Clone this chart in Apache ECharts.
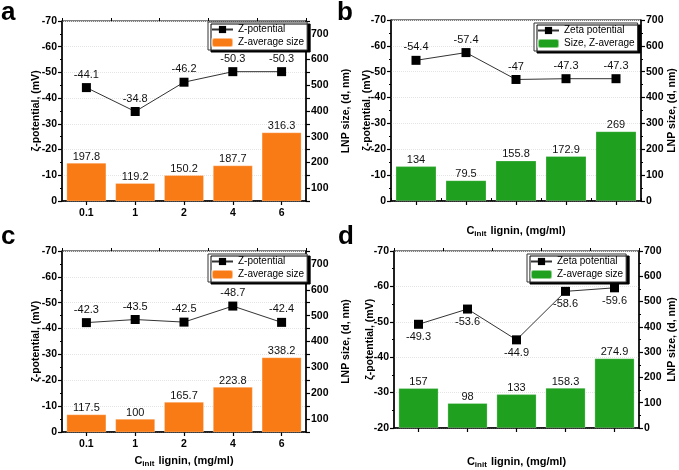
<!DOCTYPE html>
<html>
<head>
<meta charset="utf-8">
<script src="https://cdn.jsdelivr.net/npm/echarts@6/dist/echarts.min.js"></script>
<style>
html,body{margin:0;padding:0;background:#fff;}
#chart{width:679px;height:470px;}
</style>
</head>
<body>
<div id="chart"></div>
<script>
const categories = ['0.1', '1', '2', '4', '6'];
const zetaA = [-44.1, -34.8, -46.2, -50.3, -50.3];
const sizeA = [197.8, 119.2, 150.2, 187.7, 316.3];
const zetaB = [-54.4, -57.4, -47, -47.3, -47.3];
const sizeB = [134, 79.5, 155.8, 172.9, 269];
const zetaC = [-42.3, -43.5, -42.5, -48.7, -42.4];
const sizeC = [117.5, 100, 165.7, 223.8, 338.2];
const zetaD = [-49.3, -53.6, -44.9, -58.6, -59.6];
const sizeD = [157, 98, 133, 158.3, 274.9];
const namesA = ['Z-potential', 'Z-average size'];
const namesB = ['Zeta potential', 'Size, Z-average'];
const namesC = ['Z-potential', 'Z-average size'];
const namesD = ['Zeta potential', 'Z-average size'];
const panelLetters = ['a', 'b', 'c', 'd'];
const leftAxisName = 'ζ-potential, (mV)';
const rightAxisName = 'LNP size, (d, nm)';
const xAxisName = '{m|C}{s|init}{m| lignin, (mg/ml)}';

const ORANGE = '#f97b16';
const GREEN = '#1fa01f';
const FONT = '"Liberation Sans", Arial, sans-serif';

const panels = [
  {zeta: zetaA, size: sizeA, names: namesA, color: ORANGE,
   grid: {left: 62, top: 21, width: 244, height: 180},
   zMin: -70, zMax: 0, sMin: 50, sMax: 750, sInt: 50,
   showX: true, xName: false, xGap: 0, lg: {left: 208, top: 22}, lpos: 'top', lGap: 20, rGap: 35,
   letter: {x: 1, y: 27}},
  {zeta: zetaB, size: sizeB, names: namesB, color: GREEN,
   grid: {left: 391, top: 20, width: 250, height: 181},
   zMin: -70, zMax: 0, sMin: 0, sMax: 700, sInt: 100,
   showX: false, xName: true, xGap: 23, lg: {left: 534, top: 23}, lpos: 'top', lGap: 18, rGap: 26,
   letter: {x: 337, y: 27}},
  {zeta: zetaC, size: sizeC, names: namesC, color: ORANGE,
   grid: {left: 62, top: 251, width: 244, height: 181},
   zMin: -70, zMax: 0, sMin: 50, sMax: 750, sInt: 50,
   showX: true, xName: true, xGap: 22, lg: {left: 208, top: 254}, lpos: 'top', lGap: 20, rGap: 35,
   letter: {x: 1, y: 251}},
  {zeta: zetaD, size: sizeD, names: namesD, color: GREEN,
   grid: {left: 394, top: 251, width: 245, height: 181},
   zMin: -70, zMax: -20, sMin: 0, sMax: 700, sInt: 100,
   showX: false, xName: true, xGap: 27, lg: {left: 527, top: 254}, lpos: 'bottom', lGap: 18, rGap: 28,
   letter: {x: 338, y: 251}}
];

const option = {
  backgroundColor: '#fff',
  animation: false,
  textStyle: {fontFamily: FONT},
  grid: [], xAxis: [], yAxis: [], series: [], legend: [], graphic: []
};

panels.forEach((p, i) => {
  option.grid.push(Object.assign({show: true, borderColor: '#000', borderWidth: 1, backgroundColor: 'transparent'}, p.grid));
  option.xAxis.push({
    type: 'category', gridIndex: i, data: categories,
    axisLine: {lineStyle: {color: '#000', width: 1.5}},
    axisTick: {show: true, alignWithLabel: true, length: 4, lineStyle: {color: '#000', width: 1.2}},
    axisLabel: {show: p.showX, color: '#000', fontWeight: 'bold', fontSize: 10.5, margin: 7, fontFamily: FONT},
    name: p.xName ? xAxisName : '',
    nameLocation: 'middle', nameGap: p.xGap, nameMoveOverlap: false,
    nameTextStyle: {
      color: '#000', fontFamily: FONT,
      rich: {
        m: {fontSize: 11, fontWeight: 'bold', color: '#000', fontFamily: FONT},
        s: {fontSize: 8, fontWeight: 'bold', color: '#000', fontFamily: FONT, padding: [6, 1, 0, 0]}
      }
    }
  });
  option.xAxis.push({
    type: 'category', gridIndex: i, data: categories,
    axisLine: {show: false},
    axisTick: {show: true, length: 3, lineStyle: {color: '#000', width: 1}},
    axisLabel: {show: false}, splitLine: {show: false}
  });
  option.yAxis.push({
    type: 'value', gridIndex: i, position: 'left', inverse: true,
    min: p.zMin, max: p.zMax, interval: 10,
    axisLine: {show: true, lineStyle: {color: '#000', width: 1.5}},
    axisTick: {show: true, length: 4, lineStyle: {color: '#000', width: 1.2}},
    minorTick: {show: true, splitNumber: 2, length: 2, lineStyle: {color: '#000'}},
    axisLabel: {color: '#000', fontWeight: 'bold', fontSize: 10.5, margin: 5, fontFamily: FONT},
    splitLine: {show: true, lineStyle: {color: '#e4e4e4', type: 'dotted', width: 1}},
    name: leftAxisName, nameLocation: 'middle', nameGap: p.lGap, nameRotate: 90, nameMoveOverlap: false,
    nameTextStyle: {color: '#000', fontWeight: 'bold', fontSize: 10.5, fontFamily: FONT}
  });
  option.yAxis.push({
    type: 'value', gridIndex: i, position: 'right',
    min: p.sMin, max: p.sMax, interval: p.sInt,
    axisLine: {show: true, lineStyle: {color: '#000', width: 1.5}},
    axisTick: {show: true, length: 4, lineStyle: {color: '#000', width: 1.2}},
    minorTick: {show: p.sInt === 100, splitNumber: 2, length: 2, lineStyle: {color: '#000'}},
    axisLabel: {
      color: '#000', fontWeight: 'bold', fontSize: 10.5, margin: 5, fontFamily: FONT,
      formatter: v => (v % 100 === 0 && v <= 700) ? String(v) : ''
    },
    splitLine: {show: false},
    name: rightAxisName, nameLocation: 'middle', nameGap: p.rGap, nameRotate: 90, nameMoveOverlap: false,
    nameTextStyle: {color: '#000', fontWeight: 'bold', fontSize: 10.5, fontFamily: FONT}
  });
  option.series.push({
    type: 'bar', name: p.names[1], xAxisIndex: i * 2, yAxisIndex: i * 2 + 1,
    data: p.size, barWidth: '81%', clip: true,
    itemStyle: {color: p.color, borderColor: 'rgba(255,255,255,0.5)', borderWidth: 0.5},
    label: {show: true, position: 'top', distance: 1, color: '#111', fontSize: 11, fontFamily: FONT},
    z: 2
  });
  option.series.push({
    type: 'line', name: p.names[0], xAxisIndex: i * 2, yAxisIndex: i * 2,
    data: p.zeta, symbol: 'rect', symbolSize: 9,
    lineStyle: {color: '#333', width: 1},
    itemStyle: {color: '#000'},
    label: {show: true, position: p.lpos, distance: 3, color: '#111', fontSize: 11, fontFamily: FONT},
    z: 4
  });
  option.legend.push({
    left: p.lg.left, top: p.lg.top, orient: 'vertical',
    itemWidth: 21, itemHeight: 9, itemGap: 2,
    padding: [2, 3, 2, 3],
    backgroundColor: '#fff', borderColor: '#333', borderWidth: 1,
    shadowColor: '#000', shadowBlur: 0, shadowOffsetX: 3, shadowOffsetY: 2,
    selectedMode: false,
    textStyle: {color: '#000', fontSize: 10, lineHeight: 11, fontFamily: FONT},
    data: [
      {name: p.names[0]},
      {name: p.names[1], itemStyle: {color: p.color}}
    ]
  });
  option.graphic.push({
    type: 'text', left: p.letter.x, top: p.letter.y - 27, z: 10,
    style: {text: panelLetters[i], font: 'bold 26px ' + FONT, fill: '#000'}
  });
});

const chart = echarts.init(document.getElementById('chart'), null, {renderer: 'canvas'});
chart.setOption(option);
</script>
</body>
</html>
